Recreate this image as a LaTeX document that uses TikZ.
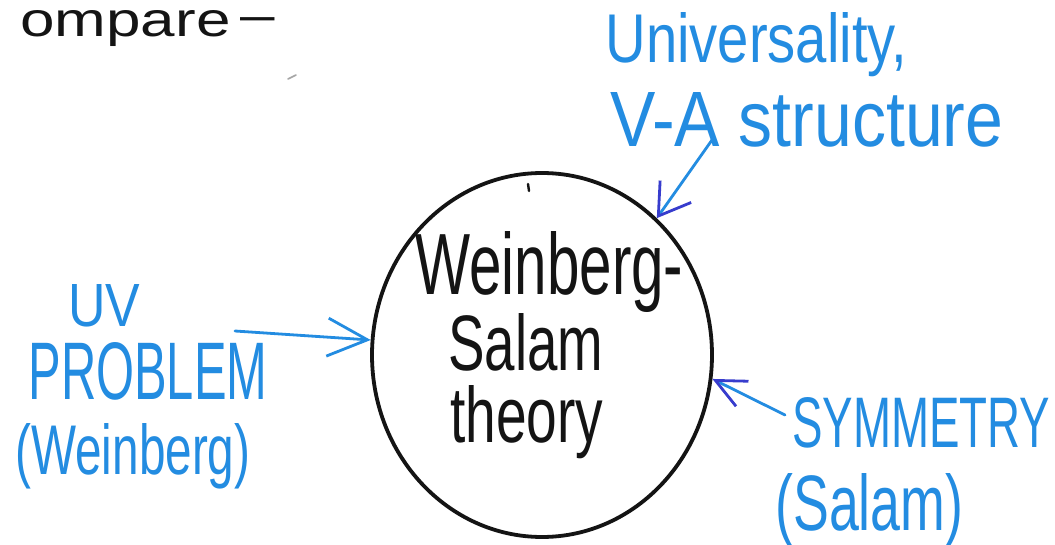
\documentclass[tikz,border=0pt]{standalone}
\usepackage{fontspec}
\setmainfont{Liberation Sans}
\usetikzlibrary{shapes.geometric,arrows.meta}
\definecolor{handblue}{RGB}{35,140,225}
\definecolor{tipblue}{RGB}{55,60,205}
\definecolor{ink}{RGB}{20,20,20}
\newcommand{\fittext}[3]{\resizebox{#1}{#2}{#3}}
\begin{document}
\begin{tikzpicture}[x=0.5pt,y=-0.5pt,
  lab/.style={inner sep=0pt,anchor=base west,text=handblue},
  blk/.style={inner sep=0pt,anchor=base west,text=ink},
  arr/.style={draw=handblue,line width=1.4pt,line cap=round},
  ring/.style={ellipse,draw=ink,line width=1.9pt,minimum width=170pt,minimum height=182pt,inner sep=0pt}]
\useasboundingbox[fill=white] (0,0) rectangle (1055,545);

% top-left fragment
\node[blk] (cmp) at (20,37) {\fittext{127.5pt}{13pt}{ompare\,\raisebox{0.12em}{–}}};
\draw[gray!70,line width=0.8pt,line cap=round] (288,79) -- (296,75);

% central circle
\node[ring] (ws) at (542,355) {};
\draw[ink,line width=1.2pt,line cap=round] (528,184) -- (529,191);
\node[blk] (ws1) at (415,295) {\fittext{134pt}{31.5pt}{Weinberg-}};
\node[blk] (ws2) at (448,370) {\fittext{77.5pt}{28.5pt}{Salam}};
\node[blk] (ws3) at (450,442) {\fittext{76.5pt}{28.5pt}{theory}};

% top right label
\node[lab] (un1) at (605,63) {\fittext{151pt}{25pt}{Universality,}};
\node[lab] (un2) at (610,147) {\fittext{196.5pt}{27pt}{V-A structure}};
\coordinate (unA) at (712,140);
\draw[arr,-{Straight Barb[length=15pt,width=19pt,color=tipblue]}] (unA) -- (ws.50);

% left label
\node[lab] (uv1) at (68,327) {\fittext{36pt}{21pt}{UV}};
\node[lab] (uv2) at (28,400) {\fittext{119.5pt}{28.5pt}{PROBLEM}};
\node[lab] (uv3) at (15,474) {\fittext{117.5pt}{25.5pt}{(Weinberg)}};
\coordinate (uvA) at (235,331);
\draw[arr,-{Straight Barb[length=20pt,width=19pt]}] (uvA) -- (ws.175);

% right label
\node[lab] (sy1) at (792,447) {\fittext{129pt}{25pt}{SYMMETRY}};
\node[lab] (sy2) at (775,530) {\fittext{94pt}{28.5pt}{(Salam)}};
\coordinate (syA) at (785,415);
\draw[arr,-{Straight Barb[length=15pt,width=14pt,color=tipblue]}] (syA) -- (ws.352);
\end{tikzpicture}
\end{document}
